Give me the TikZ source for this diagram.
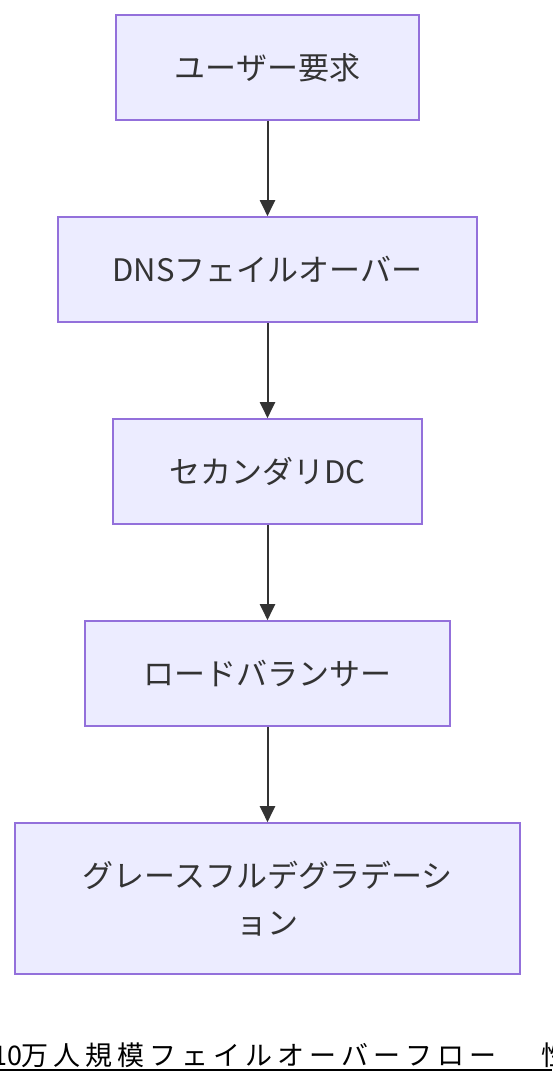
\documentclass[tikz,border=0pt]{standalone}
\usepackage{fontspec}
\setmainfont{Noto Sans CJK JP}
\usetikzlibrary{arrows.meta}
\definecolor{nodefill}{HTML}{ECECFF}
\definecolor{nodeline}{HTML}{9370DB}
\definecolor{ink}{HTML}{333333}
\newcommand{\cjkslot}[1]{\makebox[32pt][l]{#1}}
\tikzset{
  flowbox/.style={draw=nodeline, fill=nodefill, line width=1.6pt, text=ink,
    font=\fontsize{31}{47}\selectfont, align=center, inner sep=0pt},
  flowarrow/.style={draw=ink, line width=2pt, -{Triangle[width=15pt,length=16pt]}},
}
\begin{document}
\begin{tikzpicture}[x=1pt,y=-1pt]
\useasboundingbox (0,0) rectangle (552,1084);
\clip (0,0) rectangle (552,1084);
\node[flowbox, minimum width=303pt, minimum height=105pt] (a) at (267.5,67.5) {ユーザー要求};
\node[flowbox, minimum width=419pt, minimum height=105pt] (b) at (267.5,269.5) {DNSフェイルオーバー};
\node[flowbox, minimum width=309pt, minimum height=105pt] (c) at (267.5,471.5) {セカンダリDC};
\node[flowbox, minimum width=365pt, minimum height=105pt] (d) at (267.5,673.5) {ロードバランサー};
\node[flowbox, minimum width=505pt, minimum height=151pt] (e) at (267.5,898.5) {グレースフルデグラデーシ\\ョン};
\draw[flowarrow] (a) -- (b);
\draw[flowarrow] (b) -- (c);
\draw[flowarrow] (c) -- (d);
\draw[flowarrow] (d) -- (e);
\node[anchor=base west, inner sep=0pt, text=black, font=\fontsize{27}{32}\selectfont] (title) at (-8,1065)
  {\makebox[29pt][l]{10}\cjkslot{万}\cjkslot{人}\cjkslot{規}\cjkslot{模}\cjkslot{フ}\cjkslot{ェ}\cjkslot{イ}\cjkslot{ル}\cjkslot{オ}\cjkslot{ー}\cjkslot{バ}\cjkslot{ー}\cjkslot{フ}\cjkslot{ロ}\cjkslot{ー}\hspace{40pt}性能};
\draw[line width=2pt, black] (0,1070) -- (552,1070);
\end{tikzpicture}
\end{document}
